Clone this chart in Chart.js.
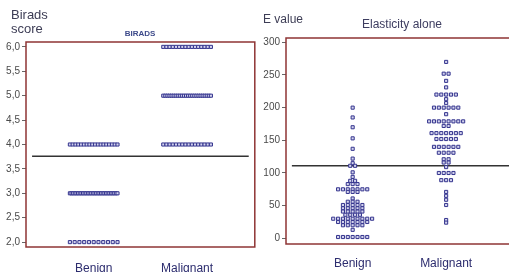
<!DOCTYPE html>
<html>
<head>
<meta charset="utf-8">
<script src="https://cdn.jsdelivr.net/npm/chart.js@4/dist/chart.umd.min.js"></script>
<style>
  html, body { margin:0; padding:0; background:#fff; overflow:hidden; width:509px; height:272px; }
  canvas { position:absolute; top:0; }
  #c1 { left:0; }
  #c2 { left:258px; }
</style>
</head>
<body>
<canvas id="c1" width="258" height="272"></canvas>
<canvas id="c2" width="258" height="272"></canvas>
<script>
// ---------- DATA ----------
const categories = ['Benign', 'Malignant'];

// BIRADS score levels and number of cases per group at each level
const biradsLevels = [2, 3, 4, 5, 6];
const biradsBenignCounts = [11, 30, 18, 0, 0];
const biradsMalignantCounts = [0, 0, 16, 24, 16];
const biradsTicks = [2, 2.5, 3, 3.5, 4, 4.5, 5, 5.5, 6];
const biradsCutoff = 3.76;

// Elasticity (E value) rows: value and number of cases at that value
const eBenignValues = [200, 185, 170, 153, 137, 122, 115, 111, 101, 94, 88, 83, 75, 71, 61, 56, 51, 46, 41, 36, 30, 25, 20, 13, 2];
const eBenignCounts = [1, 1, 1, 1, 1, 1, 1, 2, 1, 1, 2, 3, 7, 3, 1, 3, 5, 5, 5, 4, 9, 7, 5, 1, 7];
const eMalignantValues = [270, 252, 241, 231, 220, 213, 207, 200, 190, 179, 172, 161, 152, 140, 131, 121, 116, 109, 100, 89, 71, 65, 59, 51, 28, 24];
const eMalignantCounts = [1, 2, 1, 1, 5, 1, 1, 6, 1, 8, 2, 7, 5, 6, 4, 2, 2, 1, 4, 3, 1, 1, 1, 1, 1, 1];
const eTicks = [0, 50, 100, 150, 200, 250, 300];
const eCutoff = 111;

// ---------- dot-plot layout (spread equal values side by side) ----------
function dotRows(catIndex, values, counts, spacing, maxHalf) {
  const pts = [];
  values.forEach((v, i) => {
    const n = counts[i];
    if (!n) return;
    let s = spacing;
    if ((n - 1) * s > 2 * maxHalf) s = (2 * maxHalf) / (n - 1);
    for (let k = 0; k < n; k++) {
      pts.push({ x: catIndex + (k - (n - 1) / 2) * s, y: v });
    }
  });
  return pts;
}

const dotStyle = {
  type: 'scatter',
  pointStyle: 'rect',
  pointRadius: 2.2,
  pointHoverRadius: 2.2,
  pointBorderWidth: 1,
  pointBorderColor: '#34348e',
  pointBackgroundColor: '#d4d4ee',
  showLine: false
};

const textPlugin = (items) => ({
  id: 'txt',
  afterDraw(chart) {
    const ctx = chart.ctx;
    items.forEach(t => {
      ctx.save();
      ctx.font = t.font;
      ctx.fillStyle = t.color;
      ctx.textAlign = t.align || 'left';
      ctx.textBaseline = 'middle';
      ctx.fillText(t.text, t.x, t.y);
      ctx.restore();
    });
  }
});

const framePlugin = {
  id: 'frame',
  afterDatasetsDraw(chart) {
    const a = chart.chartArea, ctx = chart.ctx;
    ctx.save();
    ctx.strokeStyle = '#8e3434';
    ctx.lineWidth = 1.5;
    ctx.strokeRect(a.left, a.top, a.right - a.left, a.bottom - a.top);
    ctx.restore();
  }
};

function makeOptions(cfg) {
  return {
    responsive: false,
    animation: false,
    devicePixelRatio: 1,
    layout: { padding: { top: cfg.top, right: 2, left: 0, bottom: 0 } },
    plugins: { legend: { display: false }, tooltip: { enabled: false }, title: { display: false } },
    scales: {
      x: {
        type: 'linear',
        min: cfg.xmin, max: cfg.xmax,
        afterBuildTicks: s => { s.ticks = [{ value: 1 }, { value: 2 }]; },
        afterFit: s => { s.height = cfg.xh; },
        grid: { display: false, drawTicks: false },
        border: { display: false },
        ticks: {
          padding: cfg.xpad,
          color: '#2c2c6e',
          font: { family: 'Liberation Sans, Arial, sans-serif', size: 12 },
          callback: v => categories[Math.round(v) - 1] || ''
        }
      },
      y: {
        type: 'linear',
        min: cfg.ymin, max: cfg.ymax,
        afterBuildTicks: s => { s.ticks = cfg.yticks.map(v => ({ value: v })); },
        afterFit: s => { s.width = cfg.yw; },
        grid: { drawOnChartArea: false, drawTicks: true, tickLength: 4, color: '#666', lineWidth: 1 },
        border: { display: false },
        ticks: {
          padding: 2,
          color: '#4a4a4a',
          font: { family: 'Liberation Sans, Arial, sans-serif', size: cfg.yfs },
          callback: cfg.yfmt
        }
      }
    }
  };
}

// ---------- Left chart: BIRADS ----------
const sp = 0.052, half = 0.255;
new Chart(document.getElementById('c1'), {
  type: 'scatter',
  data: {
    datasets: [
      Object.assign({ data: dotRows(1, biradsLevels, biradsBenignCounts, sp, half) }, dotStyle),
      Object.assign({ data: dotRows(2, biradsLevels, biradsMalignantCounts, sp, half) }, dotStyle),
      {
        type: 'line',
        data: [{ x: 0.34, y: biradsCutoff }, { x: 2.66, y: biradsCutoff }],
        borderColor: '#333', borderWidth: 1.5, pointRadius: 0, fill: false
      }
    ]
  },
  options: makeOptions({
    top: 42, xmin: 0.275, xmax: 2.725, ymin: 1.9, ymax: 6.1,
    yticks: biradsTicks, yw: 26, xh: 25, xpad: 14, yfs: 10,
    yfmt: v => v.toFixed(1).replace('.', ',')
  }),
  plugins: [framePlugin, textPlugin([
    { text: 'Birads', x: 11, y: 15, font: '13px Liberation Sans, Arial, sans-serif', color: '#3d3d55' },
    { text: 'score', x: 11, y: 29, font: '13px Liberation Sans, Arial, sans-serif', color: '#3d3d55' },
    { text: 'BIRADS', x: 140, y: 34, align: 'center', font: 'bold 8px Liberation Sans, Arial, sans-serif', color: '#3d4a8a' }
  ])]
});

// ---------- Right chart: Elasticity alone ----------
new Chart(document.getElementById('c2'), {
  type: 'scatter',
  data: {
    datasets: [
      Object.assign({ data: dotRows(1, eBenignValues, eBenignCounts, sp, half) }, dotStyle),
      Object.assign({ data: dotRows(2, eMalignantValues, eMalignantCounts, sp, half) }, dotStyle),
      {
        type: 'line',
        data: [{ x: 0.35, y: eCutoff }, { x: 2.7, y: eCutoff }],
        borderColor: '#333', borderWidth: 1.5, pointRadius: 0, fill: false
      }
    ]
  },
  options: makeOptions({
    top: 38, xmin: 0.287, xmax: 2.713, ymin: -8.7, ymax: 306.6,
    yticks: eTicks, yw: 28, xh: 28, xpad: 12, yfs: 10,
    yfmt: v => String(v)
  }),
  plugins: [framePlugin, textPlugin([
    { text: 'E value', x: 5, y: 20, font: '12px Liberation Sans, Arial, sans-serif', color: '#3d3d55' },
    { text: 'Elasticity alone', x: 144, y: 25, align: 'center', font: '12px Liberation Sans, Arial, sans-serif', color: '#3d3d60' }
  ])]
});
</script>
</body>
</html>
